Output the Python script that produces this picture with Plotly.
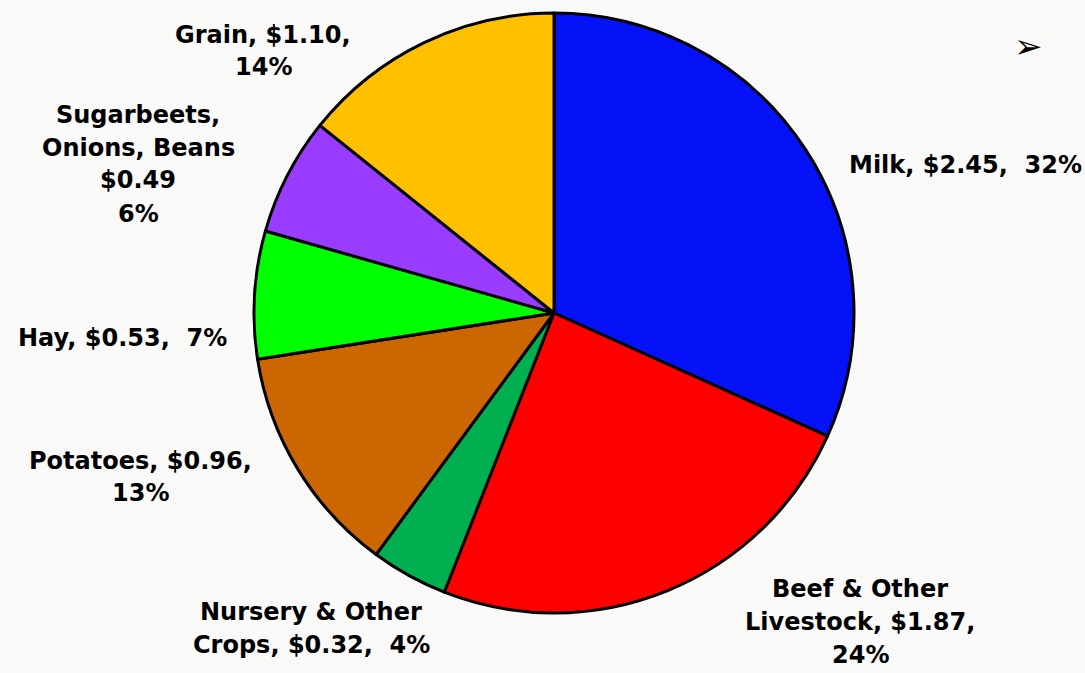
import plotly.graph_objects as go

# Farm cash receipts by commodity (billions of dollars)
categories = [
    "Milk",
    "Beef & Other Livestock",
    "Nursery & Other Crops",
    "Potatoes",
    "Hay",
    "Sugarbeets, Onions, Beans",
    "Grain",
]
values = [2.45, 1.87, 0.32, 0.96, 0.53, 0.49, 1.10]
percent_labels = ["32%", "24%", "4%", "13%", "7%", "6%", "14%"]

colors = ["#0512F8", "#FF0000", "#00B050", "#CC6600", "#00FF00", "#9A3CFF", "#FFC000"]

# Label text lines for each slice
label_lines = [
    ["Milk, ${:.2f},  {}"],
    ["Beef & Other", "Livestock, ${:.2f},", "{}"],
    ["Nursery & Other", "Crops, ${:.2f},  {}"],
    ["Potatoes, ${:.2f},", "{}"],
    ["Hay, ${:.2f},  {}"],
    ["Sugarbeets,", "Onions, Beans", "${:.2f}", "{}"],
    ["Grain, ${:.2f},", "{}"],
]
# label block centres in pixels
label_pos = [
    (965, 165),
    (860, 622),
    (311, 628),
    (141, 477),
    (122, 338),
    (138, 164),
    (263, 51),
]
LINE_STEP = 33

W, H = 1085, 673
cx, cy, r = 554, 313, 300

fig = go.Figure(
    go.Pie(
        labels=categories,
        values=values,
        sort=False,
        direction="clockwise",
        rotation=0,
        marker=dict(colors=colors, line=dict(color="#000000", width=3)),
        textinfo="none",
        hoverinfo="label+value+percent",
        showlegend=False,
        domain=dict(x=[(cx - r) / W, (cx + r) / W], y=[(H - cy - r) / H, (H - cy + r) / H]),
    )
)

annotations = []
for lines, val, pct, (px, py) in zip(label_lines, values, percent_labels, label_pos):
    n = len(lines)
    for i, ln in enumerate(lines):
        if "{:.2f}" in ln and "{}" in ln:
            txt = ln.format(val, pct)
        elif "{:.2f}" in ln:
            txt = ln.format(val)
        elif "{}" in ln:
            txt = ln.format(pct)
        else:
            txt = ln
        ly = py + (i - (n - 1) / 2) * LINE_STEP
        annotations.append(
            dict(
                text=txt,
                x=px / W,
                y=1 - ly / H,
                xref="paper",
                yref="paper",
                xanchor="center",
                yanchor="middle",
                showarrow=False,
                align="center",
                font=dict(family="DejaVu Sans", size=24, color="#000000", weight="bold"),
            )
        )

# bullet glyph in the corner
annotations.append(
    dict(
        text="➢",
        x=1028 / W,
        y=1 - 46 / H,
        xref="paper",
        yref="paper",
        xanchor="center",
        yanchor="middle",
        showarrow=False,
        font=dict(family="DejaVu Sans", size=34, color="#000000"),
    )
)

fig.update_layout(
    width=W,
    height=H,
    margin=dict(l=0, r=0, t=0, b=0),
    paper_bgcolor="#F9F9F7",
    plot_bgcolor="#F9F9F7",
    annotations=annotations,
)

fig.write_html("out.html")
